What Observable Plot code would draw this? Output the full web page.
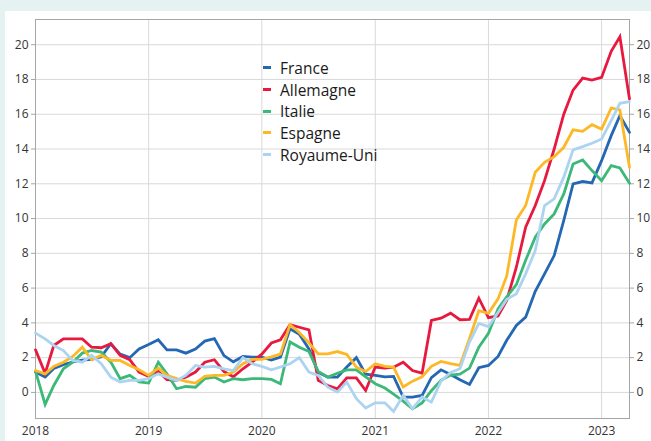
<!DOCTYPE html>
<html>
<head>
<meta charset="utf-8">
<script src="https://cdn.jsdelivr.net/npm/d3@7"></script>
<script src="https://cdn.jsdelivr.net/npm/@observablehq/plot@0.6"></script>
<style>
  html, body { margin: 0; padding: 0; }
  body { width: 651px; height: 441px; background: #e4f2f2; position: relative; overflow: hidden; font-family: "Open Sans", sans-serif; }
  #panel { position: absolute; left: 5px; top: 11px; right: 0; bottom: 0; background: #ffffff; }
  #chart { position: absolute; left: 0; top: 0; }
  #legend { position: absolute; left: 263px; top: 57px; }
  .item { display: flex; align-items: center; height: 21.7px; font-size: 15.5px; color: #1a1a1a; }
  .sw { width: 8px; height: 3px; margin-right: 9px; }
</style>
</head>
<body>
<div id="panel"></div>
<div id="chart"></div>
<div id="legend"></div>
<script>
const seriesNames = ["France", "Allemagne", "Italie", "Espagne", "Royaume-Uni"];
const colors = ["#2467b3", "#e8193f", "#3cb878", "#fdb825", "#acd4f0"];
const yTicks = [0, 2, 4, 6, 8, 10, 12, 14, 16, 18, 20];
const yearTicks = ["2018", "2019", "2020", "2021", "2022", "2023"];
const firstMonth = "2018-01-01";
const lastMonth = "2023-04-01";

const france = [1.17,0.88,1.38,1.6,1.75,1.86,1.9,2.05,2.8,2.2,2.0,2.5,
  2.75,3.03,2.45,2.45,2.26,2.5,2.95,3.1,2.12,1.76,2.07,2.03,
  2.03,1.86,2.03,3.66,3.35,2.5,1.15,0.88,0.88,1.46,2.0,1.05,
  0.98,0.9,0.92,-0.27,-0.27,-0.17,0.85,1.3,1.03,0.73,0.46,1.42,
  1.55,2.07,3.0,3.85,4.33,5.82,6.82,7.87,9.89,11.99,12.13,12.05,
  13.33,14.77,15.92,14.96];
const allemagne = [2.45,1.1,2.7,3.08,3.08,3.08,2.6,2.57,2.8,2.13,1.88,1.17,
  0.92,1.2,0.73,0.69,0.88,1.17,1.74,1.88,1.2,0.9,1.36,1.74,
  2.2,2.84,3.03,3.9,3.75,3.6,0.69,0.4,0.21,0.84,0.84,0.11,
  1.46,1.4,1.45,1.74,1.26,1.11,4.14,4.27,4.56,4.18,4.2,5.42,
  4.3,4.4,5.29,7.2,9.5,10.75,12.18,14.0,16.0,17.39,18.08,17.97,
  18.12,19.62,20.46,16.88];
const italie = [1.23,-0.69,0.4,1.36,1.74,2.26,2.41,2.32,1.74,0.79,0.98,0.6,
  0.54,1.74,1.07,0.21,0.34,0.3,0.79,0.88,0.6,0.79,0.73,0.79,
  0.79,0.75,0.5,2.9,2.6,2.35,1.2,0.88,1.1,1.3,1.3,0.9,
  0.5,0.25,-0.1,-0.5,-0.94,-0.6,0.1,0.7,1.0,1.05,1.4,2.6,
  3.4,4.8,5.5,6.2,7.6,8.93,9.69,10.27,11.42,13.14,13.37,12.76,
  12.18,13.05,12.91,12.03];
const espagne = [1.26,1.07,1.5,1.74,2.07,2.6,1.88,2.13,1.84,1.84,1.55,1.3,
  0.98,1.4,0.98,0.79,0.63,0.54,0.92,0.98,0.98,1.17,1.65,1.9,
  1.9,2.04,2.2,3.9,3.45,2.85,2.22,2.22,2.35,2.18,1.45,1.2,
  1.65,1.5,1.46,0.31,0.65,0.9,1.5,1.78,1.65,1.55,3.1,4.7,
  4.55,5.38,6.7,9.92,10.75,12.66,13.24,13.56,14.1,15.1,15.02,15.4,
  15.15,16.36,16.25,12.95];
const royaumeUni = [3.41,3.08,2.7,2.41,1.84,1.74,2.13,1.65,0.88,0.6,0.69,0.69,
  0.79,1.07,0.88,0.69,0.98,1.55,1.46,1.5,1.36,1.26,2.0,1.65,
  1.5,1.3,1.46,1.65,2.0,1.17,0.98,0.3,0.02,0.6,-0.36,-0.9,
  -0.6,-0.6,-1.1,-0.17,-0.94,-0.27,-0.56,0.65,1.15,1.36,2.9,3.97,
  3.79,4.6,5.35,5.67,6.82,8.16,10.75,11.13,12.38,13.95,14.14,14.33,
  14.58,15.63,16.63,16.72];

const allSeries = [france, allemagne, italie, espagne, royaumeUni];
const months = d3.utcMonth.range(new Date(firstMonth), d3.utcMonth.offset(new Date(lastMonth), 1));
const rows = [];
allSeries.forEach((vals, s) => vals.forEach((v, i) => rows.push({date: months[i], value: v, pays: seriesNames[s]})));
const yearDates = yearTicks.map(y => new Date(y + "-01-01"));

const axisStyle = {stroke: "#a6a6a6", strokeOpacity: 1, label: null};
const plot = Plot.plot({
  width: 651,
  height: 441,
  marginLeft: 35,
  marginRight: 22,
  marginTop: 19,
  marginBottom: 23,
  style: {background: "transparent", fontFamily: "Open Sans, sans-serif", fontSize: "12px", color: "#333333"},
  x: {type: "utc", domain: [new Date(firstMonth), new Date(lastMonth)]},
  y: {domain: [-1.5, 21.45]},
  color: {domain: seriesNames, range: colors},
  marks: [
    Plot.gridY(yTicks, {stroke: "#d9d9d9", strokeOpacity: 1}),
    Plot.gridX(yearDates, {stroke: "#d9d9d9", strokeOpacity: 1}),
    Plot.frame({stroke: "#a6a6a6"}),
    Plot.axisY(yTicks, {anchor: "left", tickSize: 4, tickPadding: 3, ...axisStyle}),
    Plot.axisY(yTicks, {anchor: "right", tickSize: 4, tickPadding: 3, ...axisStyle}),
    Plot.axisX(yearDates, {anchor: "bottom", tickSize: 0, tickPadding: 8, tickFormat: d3.utcFormat("%Y"), label: null}),
    Plot.line(rows, {x: "date", y: "value", z: "pays", stroke: "pays", strokeWidth: 2.8, strokeLinejoin: "miter", strokeMiterlimit: 4})
  ]
});
document.getElementById("chart").appendChild(plot);

const legend = document.getElementById("legend");
seriesNames.forEach((n, i) => {
  const it = document.createElement("div");
  it.className = "item";
  const sw = document.createElement("span");
  sw.className = "sw";
  sw.style.background = colors[i];
  const tx = document.createElement("span");
  tx.textContent = n;
  it.appendChild(sw); it.appendChild(tx);
  legend.appendChild(it);
});
</script>
</body>
</html>
